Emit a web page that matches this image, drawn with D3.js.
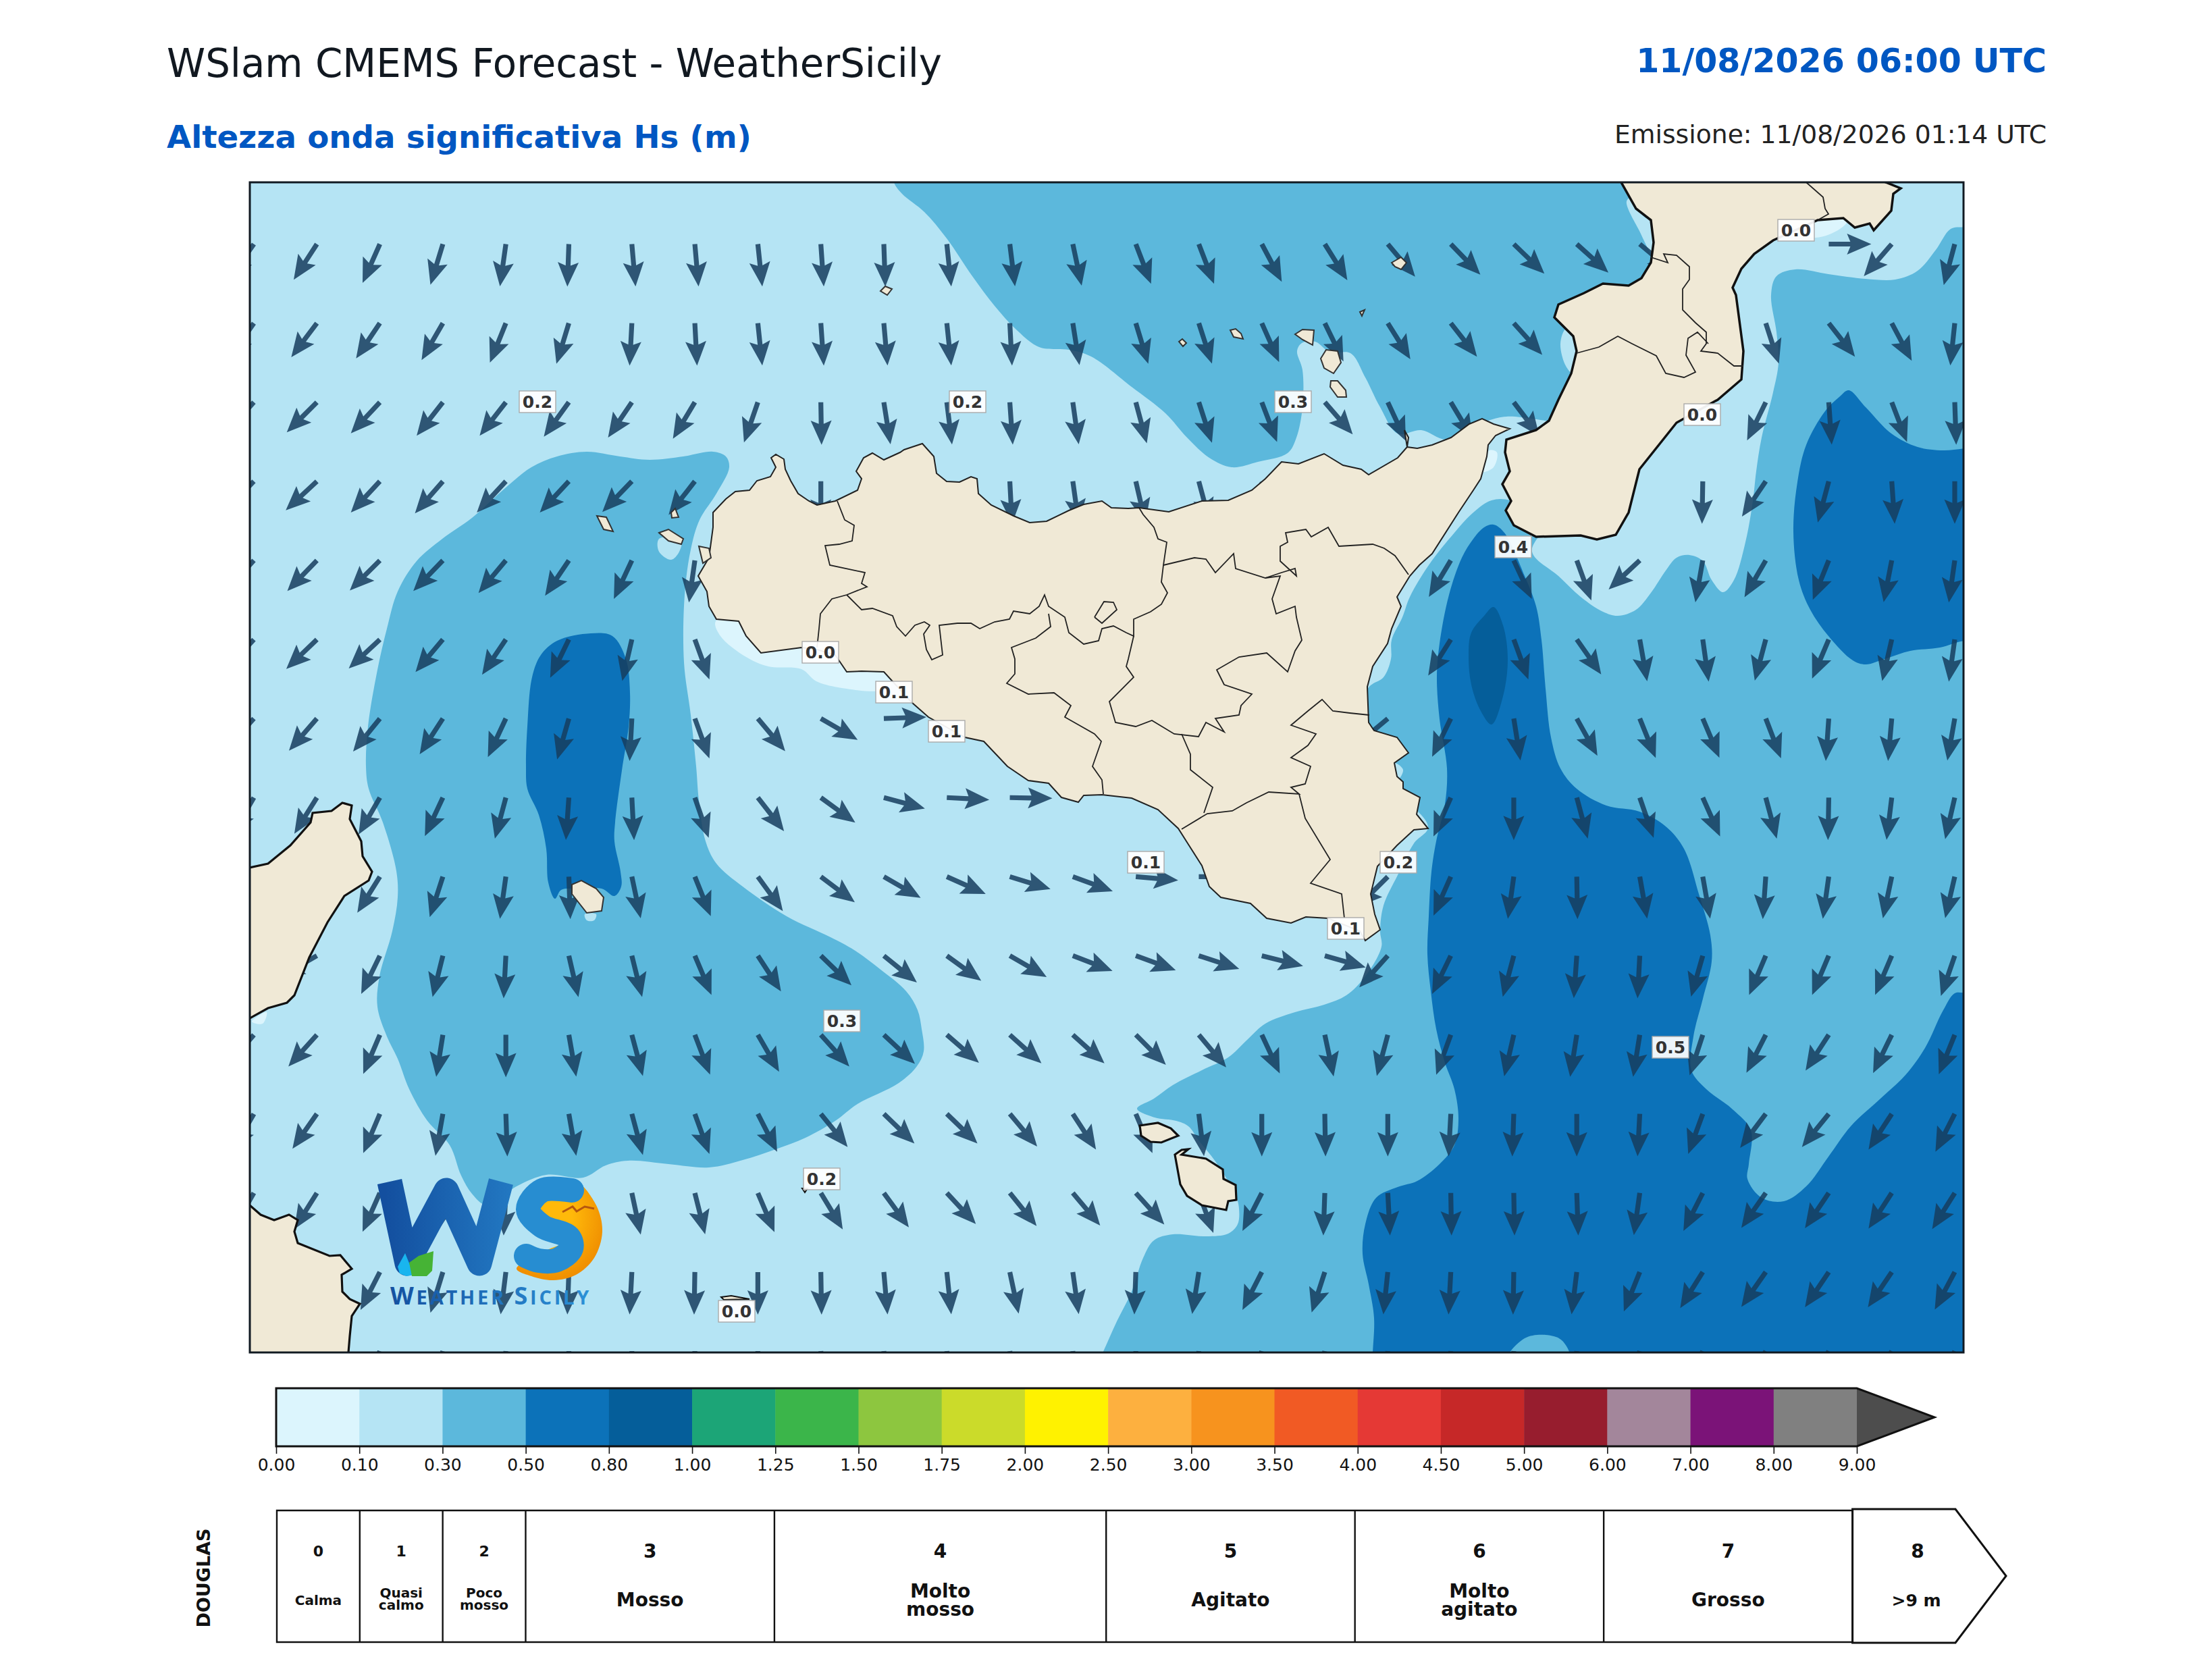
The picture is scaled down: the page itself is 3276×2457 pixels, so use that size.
<!DOCTYPE html>
<html>
<head>
<meta charset="utf-8">
<title>WSlam CMEMS Forecast</title>
<script src="https://cdn.jsdelivr.net/npm/d3@7/dist/d3.min.js"></script>
<style>
  html, body { margin: 0; padding: 0; background: #fff; }
  svg { display: block; }
  text { font-family: "DejaVu Sans", sans-serif; }
</style>
</head>
<body>
<div id="chart"></div>
<script>
// Hs colour classes
var hsTicks = ['0.00','0.10','0.30','0.50','0.80','1.00','1.25','1.50','1.75','2.00','2.50','3.00','3.50','4.00','4.50','5.00','6.00','7.00','8.00','9.00'];
var hsColors = ['#dcf5fd','#b5e4f4','#5cb8dc','#0c72b9','#055e9a','#1ca577','#3bb54a','#8dc63f','#cbdb2a','#fff200','#fdb03f','#f7931e','#f15a24','#e53935','#c62828','#971d2e','#a3869b','#7b1378','#808080'];
var hsOverColor = '#4d4d4d';

// Douglas sea scale
var douglasEdges = ['0.00','0.10','0.30','0.50','1.25','2.50','4.00','6.00','9.00'];
var douglasForce = ['0','1','2','3','4','5','6','7'];
var douglasNames = [['Calma'],['Quasi','calmo'],['Poco','mosso'],['Mosso'],['Molto','mosso'],['Agitato'],['Molto','agitato'],['Grosso']];

// Wave direction per grid row, degrees away from due south (+ towards east), null = no sea point
var waveDir = [
  [-35,-33,-24,-17,-8,-2,5,5,6,4,2,6,7,12,21,21,28,32,40,44,46,48,50,null,null,90,-41,-15],
  [-35,-37,-34,-30,-22,-17,-3,3,6,4,5,6,3,9,17,18,24,26,32,38,42,null,null,null,18,38,28,-6],
  [-42,-45,-43,-38,-38,-36,-34,-31,-19,1,9,7,4,8,15,18,21,41,25,31,37,null,null,null,-26,4,21,2],
  [-44,-47,-43,-41,-43,-43,-44,-38,null,0,null,null,3,8,13,15,20,null,null,null,null,null,null,-1,-34,-15,4,0],
  [-42,-44,-45,-44,-40,-34,-25,-8,null,null,null,null,null,null,null,null,null,null,null,-31,25,20,-47,-10,-30,-22,-11,-8],
  [-42,-46,-47,-40,-34,-26,-13,20,null,null,null,null,null,null,null,null,null,null,null,-32,20,35,10,8,-15,-23,-13,-8],
  [-42,-41,-39,-33,-25,-16,-3,20,40,60,92,null,null,null,null,null,null,null,-50,-26,9,29,22,23,21,-4,-5,-10],
  [-30,-32,-30,-25,-15,-4,3,19,38,54,75,87,89,null,null,null,null,null,null,-24,0,15,19,24,15,-1,-7,-13],
  [-35,null,-32,-18,-8,2,12,22,36,53,60,66,73,70,85,90,null,null,-45,-24,-8,1,10,10,-4,-8,-12,-13],
  [-40,-60,-26,-14,-3,13,14,23,33,46,51,54,60,69,70,72,76,74,-42,-26,-15,-4,-3,-16,-23,-23,-23,-19],
  [-40,-42,-23,-9,0,10,15,21,30,42,47,49,48,48,45,40,25,12,-15,-20,-13,-9,-9,-18,-27,-33,-26,-22],
  [-30,-35,-23,-10,2,10,15,20,27,39,46,46,40,33,23,7,0,1,0,-3,-2,0,-3,-20,-37,-39,-33,-27],
  [-30,-32,-24,-10,-3,8,12,14,23,31,36,43,39,40,42,20,-27,-2,3,1,1,2,-8,-27,-35,-34,-33,-32],
  [null,-30,-27,-17,-7,-2,-3,-1,0,1,5,6,12,8,-2,-9,-27,-18,-6,-3,-1,-7,-22,-32,-35,-34,-34,-28],
  [null,null,-22,-15,-5,0,0,0,0,2,5,5,8,5,0,-5,-15,-12,-5,-3,-2,-5,-15,-25,-30,-30,-30,-25]
];

// Hs contours, map grid units
var bandNorth = [[954,-20],[954,0],[966,17],[999,44],[1032,83],[1070,139],[1103,183],[1136,219],[1169,244],[1213,248],[1246,258],[1306,303],[1356,342],[1388,378],[1421,408],[1454,422],[1493,414],[1537,401],[1550,378],[1559,333],[1559,278],[1551,250],[1558,238],[1578,236],[1600,252],[1630,253],[1652,289],[1674,333],[1700,372],[1735,367],[1773,381],[1834,353],[1861,347],[1899,350],[1924,353],[2000,340],[2100,200],[2100,-20],[1500,-20]];
var bandWest = [[710,422],[705,406],[686,399],[642,406],[592,411],[548,406],[499,399],[455,406],[417,422],[378,453],[329,497],[285,528],[247,561],[219,606],[203,661],[189,722],[175,806],[172,865],[176,898],[197,948],[217,1020],[219,1059],[211,1109],[192,1176],[189,1221],[203,1265],[219,1298],[236,1343],[263,1390],[296,1426],[313,1471],[329,1498],[351,1515],[395,1487],[439,1470],[494,1474],[527,1456],[560,1449],[620,1454],[680,1459],[730,1448],[779,1432],[823,1415],[867,1390],[900,1365],[961,1334],[988,1309],[998,1287],[995,1254],[989,1226],[972,1198],[933,1165],[895,1137],[860,1118],[795,1087],[730,1043],[691,1009],[675,976],[665,915],[661,865],[653,789],[643,711],[644,611],[653,544],[666,500],[691,461]];
var bandEast = [[1867,471],[1920,500],[1899,547],[1938,583],[1971,614],[2004,636],[2026,642],[2053,633],[2075,608],[2097,575],[2113,556],[2132,552],[2152,561],[2165,589],[2182,607],[2198,589],[2215,533],[2226,472],[2231,428],[2239,378],[2256,311],[2264,267],[2261,222],[2253,167],[2261,139],[2289,129],[2338,136],[2393,143],[2437,144],[2470,131],[2497,100],[2519,69],[2540,66],[2570,60],[2570,900],[2570,1760],[1900,1760],[1250,1760],[1262,1736],[1284,1687],[1306,1643],[1323,1593],[1339,1567],[1367,1558],[1416,1561],[1449,1557],[1463,1543],[1465,1520],[1460,1500],[1430,1450],[1406,1420],[1390,1398],[1372,1390],[1340,1385],[1314,1372],[1339,1357],[1367,1337],[1410,1315],[1449,1296],[1476,1271],[1504,1246],[1548,1229],[1591,1218],[1624,1204],[1652,1176],[1676,1132],[1674,1109],[1679,1071],[1700,1026],[1724,979],[1745,955],[1700,900],[1640,800],[1657,748],[1679,733],[1690,706],[1691,678],[1707,644],[1718,614],[1746,567],[1784,519],[1812,489],[1839,471]];
var coreWest = [[409,865],[411,806],[418,733],[431,700],[455,679],[505,668],[537,672],[557,706],[563,756],[561,806],[551,871],[541,948],[540,976],[549,1021],[550,1043],[540,1057],[521,1046],[483,1046],[461,1048],[452,1061],[442,1037],[439,987],[428,937],[411,898]];
var coreEast = [[1842,507],[1858,519],[1888,583],[1905,628],[1913,678],[1919,750],[1927,822],[1941,868],[1965,898],[2009,923],[2058,932],[2097,954],[2124,987],[2146,1054],[2163,1115],[2165,1154],[2152,1209],[2138,1265],[2135,1315],[2157,1343],[2196,1373],[2223,1404],[2220,1454],[2218,1476],[2239,1504],[2272,1509],[2305,1487],[2338,1443],[2371,1398],[2415,1357],[2453,1321],[2481,1282],[2508,1226],[2525,1201],[2540,1200],[2570,1195],[2570,1760],[2100,1760],[1663,1760],[1663,1736],[1665,1682],[1657,1632],[1648,1587],[1652,1543],[1668,1504],[1700,1488],[1729,1479],[1762,1454],[1784,1426],[1790,1387],[1784,1343],[1770,1304],[1757,1254],[1749,1198],[1744,1143],[1746,1087],[1750,1021],[1757,976],[1770,921],[1773,868],[1762,795],[1758,733],[1762,683],[1776,611],[1795,556],[1812,528],[1828,511]];
var coreNorthEast = [[2368,308],[2393,333],[2431,372],[2470,392],[2508,397],[2540,394],[2570,390],[2570,682],[2540,679],[2503,689],[2459,694],[2421,706],[2393,714],[2374,708],[2338,672],[2311,633],[2294,589],[2286,517],[2292,444],[2305,389],[2333,339],[2355,317]];
var peakEast = [[1842,629],[1856,656],[1863,706],[1856,761],[1839,803],[1823,783],[1809,744],[1805,700],[1809,667],[1828,642]];
var patchSouthEast = [[1864,1740],[1888,1712],[1919,1707],[1943,1715],[1954,1740]];
var calmSicily = [[690,650],[697,672],[735,703],[768,717],[817,721],[839,739],[884,750],[933,753],[950,745],[900,680],[750,640]];
var calmCrotone = [[2283,72],[2319,82],[2355,69],[2366,56],[2327,45]];
var calmMessina = [[1836,397],[1847,400],[1842,422],[1824,429],[1828,410]];
var calmTunisia = [[3,1243],[25,1229],[19,1246]];
var lightFavignana = [[606,528],[606,547],[624,559],[636,547],[639,528]];
var lightCalabria = [[1949,217],[1941,239],[1949,272],[1960,283],[1975,250],[1960,219]];
var lightPaola = [[2039,28],[2058,72],[2078,106],[2090,67],[2064,50],[2047,22]];
var lightPantelleria = [[496,1084],[513,1084],[510,1093],[499,1093]];
var lightSiracusa = [[1695,860],[1708,870],[1699,886],[1691,880]];

// Coastlines
var sicily = [[686,489],[705,469],[719,458],[740,456],[751,442],[771,436],[779,422],[772,408],[779,403],[791,410],[793,425],[801,442],[812,461],[828,472],[840,478],[867,472],[900,456],[906,439],[898,428],[909,408],[922,401],[939,411],[963,400],[969,396],[996,387],[1013,406],[1017,431],[1032,443],[1051,444],[1068,436],[1077,439],[1079,461],[1098,478],[1131,494],[1155,504],[1180,502],[1213,486],[1235,477],[1262,472],[1276,482],[1301,483],[1317,482],[1361,488],[1410,472],[1449,471],[1484,456],[1504,439],[1528,414],[1553,417],[1591,402],[1619,419],[1646,425],[1657,433],[1700,408],[1714,392],[1716,378],[1710,367],[1714,392],[1729,394],[1751,389],[1779,378],[1806,358],[1825,350],[1842,358],[1866,365],[1845,375],[1834,389],[1832,406],[1823,439],[1812,456],[1790,489],[1751,550],[1732,567],[1718,583],[1699,614],[1705,628],[1691,661],[1685,683],[1663,717],[1655,747],[1657,800],[1665,812],[1699,822],[1716,845],[1695,860],[1699,880],[1708,888],[1708,898],[1733,911],[1728,936],[1745,957],[1724,959],[1699,982],[1670,1013],[1660,1054],[1666,1084],[1674,1107],[1652,1123],[1644,1109],[1597,1090],[1564,1088],[1542,1097],[1506,1090],[1482,1068],[1438,1059],[1421,1043],[1410,1012],[1389,979],[1375,957],[1345,929],[1306,912],[1262,907],[1235,908],[1227,918],[1202,911],[1183,890],[1153,886],[1122,865],[1087,828],[1059,822],[1005,792],[980,770],[939,725],[906,724],[884,725],[867,700],[840,692],[817,689],[757,697],[735,672],[724,650],[691,647],[680,628],[677,606],[664,583],[680,556],[686,511]];
var calabria = [[2031,-10],[2031,0],[2053,39],[2075,56],[2079,89],[2075,119],[2061,142],[2042,153],[2004,150],[1976,164],[1938,181],[1932,200],[1960,228],[1965,250],[1957,283],[1938,322],[1924,353],[1905,367],[1861,381],[1859,400],[1866,428],[1855,447],[1868,472],[1860,486],[1872,508],[1905,525],[1971,523],[1995,529],[2023,522],[2042,489],[2058,425],[2113,356],[2174,322],[2209,292],[2212,250],[2201,167],[2196,156],[2209,128],[2228,106],[2256,86],[2322,56],[2360,53],[2377,67],[2399,61],[2405,71],[2431,42],[2434,17],[2445,9],[2423,0],[2423,-10]];
var tunisia = [[-20,1015],[0,1015],[27,1009],[60,982],[90,948],[93,934],[121,931],[137,919],[151,923],[148,943],[165,976],[167,998],[181,1021],[176,1034],[140,1057],[115,1096],[88,1148],[66,1204],[55,1215],[27,1223],[0,1238],[-20,1238]];
var libya = [[-20,1515],[0,1515],[16,1529],[36,1537],[58,1529],[71,1537],[66,1554],[71,1571],[118,1590],[134,1589],[151,1609],[136,1618],[137,1643],[148,1654],[163,1661],[151,1679],[148,1709],[145,1745],[-20,1745]];
var islands = [
  [[934,161],[941,154],[951,158],[944,167]],
  [[1376,236],[1381,232],[1387,238],[1382,243]],
  [[1452,219],[1460,217],[1468,224],[1471,232],[1457,229]],
  [[1548,225],[1559,218],[1576,219],[1574,241],[1559,233]],
  [[1586,261],[1594,248],[1611,250],[1616,267],[1605,283],[1591,275]],
  [[1601,294],[1611,294],[1623,308],[1624,318],[1611,318],[1600,303]],
  [[1644,192],[1651,189],[1647,198]],
  [[1691,119],[1705,111],[1713,119],[1705,129],[1696,125]],
  [[514,494],[528,496],[538,517],[524,514]],
  [[624,489],[630,483],[635,496],[625,497]],
  [[606,519],[620,514],[642,528],[639,536],[620,531]],
  [[665,539],[680,542],[683,556],[671,564]],
  [[477,1040],[491,1034],[513,1046],[524,1059],[521,1079],[499,1082],[477,1054]],
  [[698,1651],[713,1649],[740,1654],[702,1655]],
  [[818,1490],[826,1490],[822,1496]],
  [[1318,1397],[1345,1393],[1364,1401],[1375,1412],[1350,1422],[1334,1421],[1320,1412]],
  [[1370,1440],[1380,1433],[1390,1432],[1380,1440],[1416,1446],[1441,1462],[1442,1476],[1460,1485],[1461,1507],[1449,1509],[1446,1522],[1410,1515],[1388,1501],[1378,1484]]
];
var boldIslands = [13, 14, 15, 16];

// Province borders
var borders = [
  [[870,472],[881,500],[895,508],[892,531],[873,536],[852,538],[859,567],[911,578],[906,594],[914,599],[884,611],[862,617],[845,639],[843,661],[840,689]],
  [[884,611],[906,633],[922,631],[952,642],[958,658],[971,672],[985,656],[999,651],[1007,656],[998,669],[1002,692],[1010,707],[1026,700],[1021,656],[1048,653],[1068,653],[1081,661],[1103,651],[1125,647],[1131,635],[1155,639],[1169,628],[1177,611],[1183,628],[1207,644],[1213,667],[1235,684],[1257,679],[1262,661],[1279,657],[1298,667],[1309,672],[1309,647],[1334,636],[1350,625],[1359,608],[1350,592],[1353,567],[1358,533],[1345,528],[1339,511],[1323,492],[1317,482]],
  [[1183,639],[1186,658],[1164,675],[1128,689],[1133,706],[1133,728],[1121,742],[1153,758],[1191,756],[1216,775],[1207,792],[1251,817],[1261,828],[1248,865],[1262,885],[1264,906]],
  [[1309,672],[1301,706],[1298,717],[1309,733],[1273,769],[1282,800],[1312,806],[1336,797],[1369,817],[1405,821],[1416,800],[1443,814],[1430,794],[1465,789],[1468,775],[1484,758],[1443,744],[1432,722],[1465,703],[1506,697],[1537,725],[1548,694],[1558,678],[1550,644],[1548,628],[1520,639],[1514,617],[1526,583],[1504,586],[1460,572],[1457,550],[1430,578],[1416,558],[1399,556],[1353,567]],
  [[1504,586],[1528,578],[1548,572],[1550,583],[1526,561],[1526,539],[1537,533],[1534,519],[1564,514],[1572,525],[1597,511],[1613,539],[1663,536],[1680,542],[1696,553],[1716,581]],
  [[1658,789],[1629,786],[1604,783],[1588,766],[1567,783],[1542,804],[1579,817],[1567,834],[1542,852],[1571,865],[1563,891],[1542,896],[1554,906],[1509,903],[1476,919],[1455,931],[1418,935],[1380,958]],
  [[1380,817],[1393,847],[1393,870],[1426,896],[1413,934]],
  [[1554,906],[1563,942],[1600,1003],[1571,1038],[1617,1054],[1621,1090]],
  [[1251,644],[1262,653],[1284,633],[1279,622],[1265,621],[1251,644]],
  [[2075,111],[2100,119],[2094,106],[2113,108],[2132,125],[2132,144],[2122,158],[2122,189],[2141,208],[2157,222],[2157,239],[2149,250],[2174,253],[2198,272],[2212,272]],
  [[1965,253],[1998,244],[2026,228],[2047,239],[2083,257],[2097,283],[2124,289],[2141,281],[2127,256],[2130,231],[2144,222],[2160,239]],
  [[2305,0],[2330,22],[2333,39],[2338,47],[2322,56]]
];

// Contour value labels
var labelText = ['0.2','0.2','0.3','0.0','0.0','0.4','0.0','0.1','0.1','0.1','0.2','0.1','0.3','0.5','0.2','0.0'];
var labelX = [426,1063,1545,2290,2151,1871,845,954,1032,1327,1701,1623,877,2104,847,721];
var labelY = [325,325,325,71,344,540,696,755,813,1007,1007,1105,1242,1281,1476,1672];

var pageW = 3276, pageH = 2457;
var svg = d3.select('#chart').append('svg')
    .attr('width', pageW)
    .attr('height', pageH)
    .attr('viewBox', '0 0 ' + pageW + ' ' + pageH);

svg.append('rect').attr('width', pageW).attr('height', pageH).attr('fill', '#fff');

// titles
svg.append('text').attr('x', 247).attr('y', 114).attr('font-size', 57.8).attr('fill', '#111820')
    .text('WSlam CMEMS Forecast - WeatherSicily');
svg.append('text').attr('x', 247).attr('y', 219).attr('font-size', 46.7).attr('font-weight', 'bold').attr('fill', '#0057c2')
    .text('Altezza onda significativa Hs (m)');
svg.append('text').attr('x', 3031).attr('y', 107).attr('font-size', 49).attr('font-weight', 'bold').attr('fill', '#0057c2')
    .attr('text-anchor', 'end').text('11/08/2026 06:00 UTC');
svg.append('text').attr('x', 3031).attr('y', 212).attr('font-size', 37.7).attr('fill', '#222')
    .attr('text-anchor', 'end').text('Emissione: 11/08/2026 01:14 UTC');

// map
var mapLeft = 370, mapRight = 2908, mapTop = 270, mapBottom = 2003;
var mapX = d3.scaleLinear().domain([0, mapRight - mapLeft]).range([mapLeft, mapRight]);
var mapY = d3.scaleLinear().domain([0, mapBottom - mapTop]).range([mapTop, mapBottom]);

svg.append('clipPath').attr('id', 'mapClip').append('rect')
    .attr('x', mapLeft).attr('y', mapTop).attr('width', mapRight - mapLeft).attr('height', mapBottom - mapTop);

var mapLayer = svg.append('g').attr('clip-path', 'url(#mapClip)');

var smoothLine = d3.line().x(function(d) { return mapX(d[0]); }).y(function(d) { return mapY(d[1]); })
    .curve(d3.curveCatmullRomClosed.alpha(0.5));
var closedLine = d3.line().x(function(d) { return mapX(d[0]); }).y(function(d) { return mapY(d[1]); })
    .curve(d3.curveLinearClosed);
var openLine = d3.line().x(function(d) { return mapX(d[0]); }).y(function(d) { return mapY(d[1]); });

mapLayer.append('rect').attr('x', mapLeft).attr('y', mapTop).attr('width', mapRight - mapLeft).attr('height', mapBottom - mapTop)
    .attr('fill', hsColors[1]);

var bands = [
  [bandNorth, hsColors[2]], [bandWest, hsColors[2]], [bandEast, hsColors[2]],
  [lightFavignana, hsColors[1]], [lightCalabria, hsColors[1]], [lightPaola, hsColors[1]],
  [lightPantelleria, hsColors[1]], [lightSiracusa, hsColors[1]],
  [coreWest, hsColors[3]], [coreEast, hsColors[3]], [coreNorthEast, hsColors[3]],
  [patchSouthEast, hsColors[2]], [peakEast, hsColors[4]],
  [calmSicily, hsColors[0]], [calmCrotone, hsColors[0]], [calmMessina, hsColors[0]], [calmTunisia, hsColors[0]]
];
mapLayer.selectAll('path.band').data(bands).enter().append('path')
    .attr('class', 'band')
    .attr('d', function(d) { return smoothLine(d[0]); })
    .attr('fill', function(d) { return d[1]; });

// wave arrows, tail on the grid point
var colX = d3.scaleLinear().domain([0, 27]).range([376, 2895]);
var rowY = d3.scaleLinear().domain([0, 14]).range([361.5, 2001]);
var arrowShape = 'M-3.6,0L-3.6,32L-15.5,27L0,63L15.5,27L3.6,32L3.6,0Z';

var waveCells = [];
waveDir.forEach(function(row, j) {
    row.forEach(function(dir, i) {
        if (dir !== null) waveCells.push({col: i, row: j, dir: dir});
    });
});
mapLayer.append('g').attr('class', 'waves').attr('fill', '#163d5e').attr('fill-opacity', 0.85)
    .selectAll('path').data(waveCells).enter().append('path')
    .attr('d', arrowShape)
    .attr('transform', function(d) {
        return 'translate(' + colX(d.col) + ',' + rowY(d.row) + ') rotate(' + (-d.dir) + ')';
    });

// land on top of sea and arrows
var landFill = '#f0e9d6';
mapLayer.append('path').attr('d', closedLine(sicily)).attr('fill', landFill).attr('stroke', '#222').attr('stroke-width', 2);
mapLayer.append('path').attr('d', closedLine(calabria)).attr('fill', landFill).attr('stroke', '#111').attr('stroke-width', 3.5);
mapLayer.append('path').attr('d', closedLine(tunisia)).attr('fill', landFill).attr('stroke', '#111').attr('stroke-width', 3.2);
mapLayer.append('path').attr('d', closedLine(libya)).attr('fill', landFill).attr('stroke', '#111').attr('stroke-width', 3.2);
mapLayer.selectAll('path.island').data(islands).enter().append('path')
    .attr('class', 'island')
    .attr('d', closedLine)
    .attr('fill', landFill)
    .attr('stroke', function(d, i) { return boldIslands.indexOf(i) >= 0 ? '#111' : '#333'; })
    .attr('stroke-width', function(d, i) { return boldIslands.indexOf(i) >= 2 ? 3.2 : 2; });
mapLayer.selectAll('path.border').data(borders).enter().append('path')
    .attr('class', 'border')
    .attr('d', openLine)
    .attr('fill', 'none')
    .attr('stroke', '#222')
    .attr('stroke-width', 1.8);

// logo
var defs = svg.append('defs');
var wGrad = defs.append('linearGradient').attr('id', 'wsBlue').attr('gradientUnits', 'userSpaceOnUse')
    .attr('x1', mapX(200)).attr('x2', mapX(500)).attr('y1', 0).attr('y2', 0);
wGrad.append('stop').attr('offset', 0).attr('stop-color', '#134f9f');
wGrad.append('stop').attr('offset', 1).attr('stop-color', '#2b90d6');
var sunGrad = defs.append('radialGradient').attr('id', 'wsSun').attr('cx', 0.4).attr('cy', 0.35).attr('r', 0.7);
sunGrad.append('stop').attr('offset', 0.35).attr('stop-color', '#ffb90a');
sunGrad.append('stop').attr('offset', 1).attr('stop-color', '#ee8a00');

var logo = mapLayer.append('g').attr('class', 'logo');
var logoCurve = d3.line().x(function(d) { return mapX(d[0]); }).y(function(d) { return mapY(d[1]); }).curve(d3.curveCatmullRom.alpha(0.5));
logo.append('path')
    .attr('d', smoothLine([[485,1482],[513,1515],[522,1554],[510,1593],[483,1618],[450,1626],[417,1620],[395,1609],[439,1582],[472,1565],[439,1543],[431,1515],[450,1501],[472,1509]]))
    .attr('fill', 'url(#wsSun)');
logo.append('path').attr('d', openLine([[207,1480],[233,1601],[291,1493],[340,1601],[372,1480]]))
    .attr('fill', 'none').attr('stroke', 'url(#wsBlue)').attr('stroke-width', 37).attr('stroke-linejoin', 'round');
logo.append('path').attr('d', logoCurve([[477,1493],[433,1493],[412,1521],[433,1546],[472,1562],[476,1579],[455,1596],[428,1597],[409,1590]]))
    .attr('fill', 'none').attr('stroke', '#278dd1').attr('stroke-width', 36).attr('stroke-linecap', 'round');
logo.append('path').attr('d', closedLine([[230,1586],[243,1618],[232,1620],[222,1616],[219,1606]])).attr('fill', '#19b5ef');
logo.append('path').attr('d', closedLine([[272,1583],[270,1612],[262,1620],[240,1620],[236,1600],[250,1590]])).attr('fill', '#46b335');
logo.append('path').attr('d', openLine([[463,1525],[478,1517],[484,1524],[496,1517],[510,1520]]))
    .attr('fill', 'none').attr('stroke', '#b5560f').attr('stroke-width', 3);
var logoText = logo.append('text').attr('x', mapX(208)).attr('y', mapY(1662))
    .attr('fill', 'url(#wsBlue)').attr('font-weight', 'bold').attr('letter-spacing', 3.8)
    .style('font-family', '"Open Sans", sans-serif');
logoText.append('tspan').attr('font-size', 36).text('W');
logoText.append('tspan').attr('font-size', 29).text('EATHER ');
logoText.append('tspan').attr('font-size', 36).text('S');
logoText.append('tspan').attr('font-size', 29).text('ICILY');

// contour labels
var labels = mapLayer.selectAll('g.clabel').data(labelText).enter().append('g')
    .attr('class', 'clabel')
    .attr('transform', function(d, i) { return 'translate(' + mapX(labelX[i]) + ',' + mapY(labelY[i]) + ')'; });
labels.append('rect').attr('x', -27).attr('y', -16).attr('width', 54).attr('height', 32)
    .attr('fill', '#fff').attr('fill-opacity', 0.93).attr('stroke', '#aaa').attr('stroke-width', 1.4);
labels.append('text').attr('text-anchor', 'middle').attr('y', 9).attr('font-size', 25)
    .attr('font-weight', 'bold').attr('fill', '#333').text(function(d) { return d; });

svg.append('rect').attr('x', mapLeft).attr('y', mapTop).attr('width', mapRight - mapLeft).attr('height', mapBottom - mapTop)
    .attr('fill', 'none').attr('stroke', '#111a22').attr('stroke-width', 3);

// colour bar
var barTop = 2056, barBottom = 2142;
var barX = d3.scalePoint().domain(hsTicks).range([409, 2750]);
var bar = svg.append('g').attr('class', 'colorbar');
bar.selectAll('rect').data(hsColors).enter().append('rect')
    .attr('x', function(d, i) { return barX(hsTicks[i]); })
    .attr('y', barTop)
    .attr('width', function(d, i) { return barX(hsTicks[i + 1]) - barX(hsTicks[i]) + 0.5; })
    .attr('height', barBottom - barTop)
    .attr('fill', function(d) { return d; });
var barTip = [[barX('9.00'), barTop], [2865, (barTop + barBottom) / 2], [barX('9.00'), barBottom]];
bar.append('path').attr('d', d3.line()(barTip) + 'Z').attr('fill', hsOverColor);
bar.append('path')
    .attr('d', 'M' + barX('0.00') + ',' + barTop + 'L' + barTip[0] + 'L' + barTip[1] + 'L' + barTip[2] + 'L' + barX('0.00') + ',' + barBottom + 'Z')
    .attr('fill', 'none').attr('stroke', '#111').attr('stroke-width', 3);

var barAxis = svg.append('g').attr('transform', 'translate(0,' + barBottom + ')')
    .call(d3.axisBottom(barX).tickSize(11).tickPadding(7));
barAxis.select('.domain').remove();
barAxis.selectAll('line').attr('stroke', '#111').attr('stroke-width', 1.6);
barAxis.selectAll('text').attr('font-size', 25).attr('fill', '#111').style('font-family', '"DejaVu Sans", sans-serif');

// Douglas table
var tableTop = 2237, tableBottom = 2432;
var tableX = d3.scalePoint().domain(hsTicks).range([410, 2743.6]);
var table = svg.append('g').attr('class', 'douglas');

table.append('path')
    .attr('d', 'M' + tableX('9.00') + ',' + tableTop + 'L' + tableX('0.00') + ',' + tableTop + 'L' + tableX('0.00') + ',' + tableBottom + 'L' + tableX('9.00') + ',' + tableBottom)
    .attr('fill', 'none').attr('stroke', '#111').attr('stroke-width', 2.4);
table.selectAll('line').data(douglasEdges.slice(1)).enter().append('line')
    .attr('x1', function(d) { return tableX(d); })
    .attr('x2', function(d) { return tableX(d); })
    .attr('y1', tableTop)
    .attr('y2', tableBottom)
    .attr('stroke', '#111').attr('stroke-width', 2.4);
table.append('path')
    .attr('d', 'M' + tableX('9.00') + ',2235L2896,2235L2971,2334L2896,2433L' + tableX('9.00') + ',2433Z')
    .attr('fill', 'none').attr('stroke', '#111').attr('stroke-width', 3);

var cellMid = function(i) { return (tableX(douglasEdges[i]) + tableX(douglasEdges[i + 1])) / 2; };
table.selectAll('text.force').data(douglasForce).enter().append('text')
    .attr('class', 'force')
    .attr('x', function(d, i) { return cellMid(i); })
    .attr('y', function(d, i) { return i < 3 ? 2305 : 2307; })
    .attr('text-anchor', 'middle')
    .attr('font-weight', 'bold')
    .attr('font-size', function(d, i) { return i < 3 ? 22 : 28; })
    .attr('fill', '#111')
    .text(function(d) { return d; });
douglasNames.forEach(function(lines, i) {
    lines.forEach(function(line, k) {
        var small = i < 3;
        var step = small ? 18 : 27;
        table.append('text')
            .attr('x', cellMid(i))
            .attr('y', 2370 + (k - (lines.length - 1) / 2) * step + (small ? (lines.length > 1 ? 5 : 7) : 9))
            .attr('text-anchor', 'middle')
            .attr('font-weight', 'bold')
            .attr('font-size', small ? 20 : 28)
            .attr('fill', '#111')
            .text(line);
    });
});
table.append('text').attr('x', 2840).attr('y', 2307).attr('text-anchor', 'middle').attr('font-weight', 'bold')
    .attr('font-size', 28).attr('fill', '#111').text('8');
table.append('text').attr('x', 2838).attr('y', 2379).attr('text-anchor', 'middle').attr('font-weight', 'bold')
    .attr('font-size', 25).attr('fill', '#111').text('>9 m');
table.append('text').attr('transform', 'translate(311,2337) rotate(-90)').attr('text-anchor', 'middle')
    .attr('font-weight', 'bold').attr('font-size', 27).attr('fill', '#111').text('DOUGLAS');
</script>
</body>
</html>
